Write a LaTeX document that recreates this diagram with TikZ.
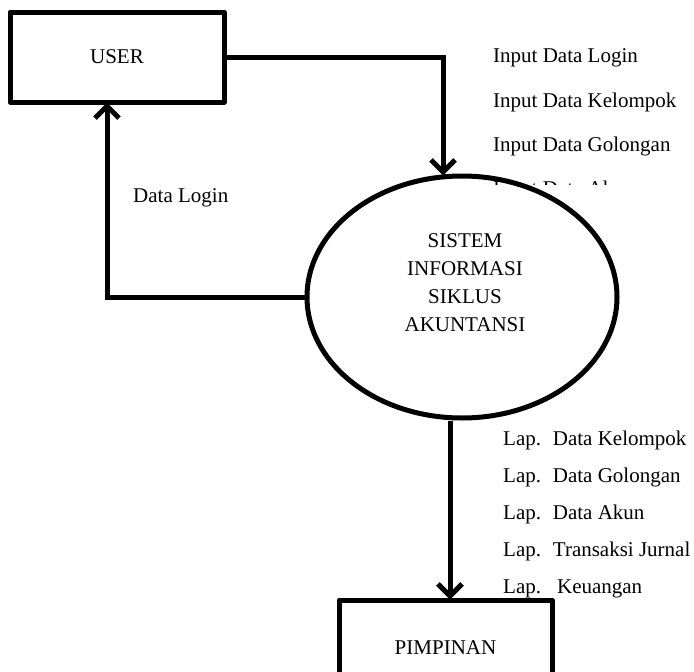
\documentclass[tikz,border=0pt]{standalone}
\usepackage{fontspec}
\setmainfont{Liberation Serif}
\usetikzlibrary{arrows.meta,shapes.geometric}
\begin{document}
\begin{tikzpicture}[x=1pt,y=-1pt,
  every node/.style={font=\fontsize{21}{28}\selectfont},
  entbox/.style={draw,line width=5pt,line join=round,rectangle,inner sep=0pt},
  flow/.style={line width=5pt},
  arr/.style={flow,-{Straight Barb[length=12pt,width=24pt,line width=5pt]}},
  lbl/.style={anchor=base west,inner sep=0pt}]
\clip (0,0) rectangle (694,672);
\fill[white] (0,0) rectangle (694,672);
% entities
\node[entbox,minimum width=214pt,minimum height=90pt] (user) at (117,57) {USER};
\node[entbox,minimum width=213pt,minimum height=96pt] (pim) at (445.5,648) {PIMPINAN};
% process
\node[draw,ellipse,line width=5pt,inner sep=0pt,minimum width=310pt,minimum height=242pt] (sis) at (462,297) {};
\node[align=center,inner sep=0pt] (sistext) at (465,283) {SISTEM\\INFORMASI\\SIKLUS\\AKUNTANSI};
% connectors
\coordinate (c1) at (443,57);
\coordinate (c2) at (107,297);
\coordinate (c3) at (450,0);
\draw[arr] (user.east) -- (c1) -- ([yshift=-2pt]c1 |- sis.north);
\draw[arr] (sis.west) -- (c2) -- ([yshift=2pt]c2 |- user.south);
\draw[arr] (c3 |- sis.south) -- ([yshift=-2pt]c3 |- pim.north);
% labels
\node[lbl] (i1) at (493,62) {Input Data Login};
\node[lbl] (i2) at (493,107) {Input Data Kelompok};
\node[lbl] (i3) at (493,151) {Input Data Golongan};
\begin{scope}
\clip (480,170) rectangle (694,184);
\node[lbl] (i4) at (493,195.5) {Input Data Akun};
\end{scope}
\node[lbl] (dl) at (133,202) {Data Login};
\node[lbl] (o1) at (503,445) {Lap.\hspace{11.8pt}Data Kelompok};
\node[lbl] (o2) at (503,482) {Lap.\hspace{11.8pt}Data Golongan};
\node[lbl] (o3) at (503,519) {Lap.\hspace{11.8pt}Data Akun};
\node[lbl] (o4) at (503,556) {Lap.\hspace{11.8pt}Transaksi Jurnal};
\node[lbl] (o5) at (503,593) {Lap.\hspace{16pt}Keuangan};
\end{tikzpicture}
\end{document}
